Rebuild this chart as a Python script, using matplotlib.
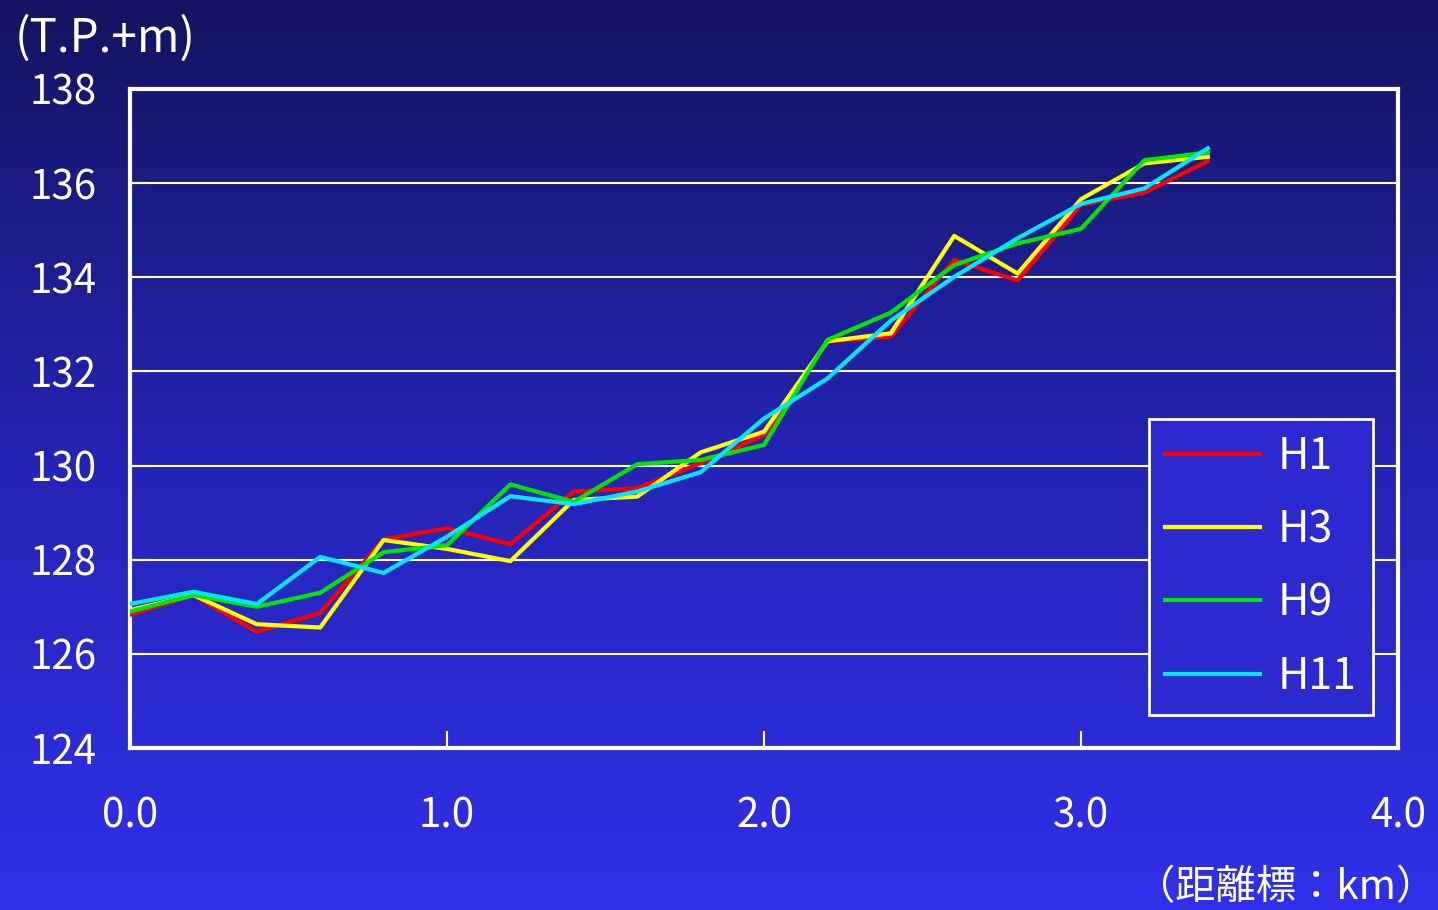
import numpy as np
import matplotlib
matplotlib.use("Agg")
import matplotlib.pyplot as plt
from matplotlib.colors import LinearSegmentedColormap

plt.rcParams['font.family'] = ['Noto Sans CJK JP', 'DejaVu Sans']

# distance marks (km) and bed elevation (T.P.+m) for each survey
dist = [0.0, 0.2, 0.4, 0.6, 0.8, 1.0, 1.2, 1.4, 1.6, 1.8,
        2.0, 2.2, 2.4, 2.6, 2.8, 3.0, 3.2, 3.4]
h1 = [126.83, 127.25, 126.47, 126.87, 128.43, 128.67, 128.33, 129.45, 129.52,
      130.05, 130.65, 132.64, 132.74, 134.37, 133.93, 135.54, 135.80, 136.47]
h3 = [126.93, 127.25, 126.63, 126.56, 128.42, 128.23, 127.97, 129.27, 129.34,
      130.28, 130.72, 132.64, 132.81, 134.88, 134.08, 135.66, 136.42, 136.56]
h9 = [126.90, 127.25, 127.00, 127.30, 128.16, 128.31, 129.60, 129.23, 130.03,
      130.12, 130.44, 132.67, 133.25, 134.26, 134.72, 135.03, 136.49, 136.65]
h11 = [127.06, 127.32, 127.06, 128.06, 127.72, 128.49, 129.35, 129.18, 129.45,
       129.86, 131.00, 131.85, 133.08, 134.01, 134.83, 135.56, 135.89, 136.74]

series = [("H1", h1, "#ff0000"), ("H3", h3, "#ffff00"),
          ("H9", h9, "#00e600"), ("H11", h11, "#00e8ff")]

xticks = [0.0, 1.0, 2.0, 3.0, 4.0]
yticks = [124, 126, 128, 130, 132, 134, 136, 138]

fig = plt.figure(figsize=(14.38, 9.1), dpi=100)

# background gradient, dark navy at top to bright blue at bottom
bg = fig.add_axes([0, 0, 1, 1], zorder=-10)
cmap = LinearSegmentedColormap.from_list("bg", ["#141460", "#2424b4", "#3030ea"])
grad = np.linspace(0, 1, 256).reshape(-1, 1)
bg.imshow(grad, aspect="auto", cmap=cmap, extent=[0, 1, 0, 1])
bg.axis("off")

ax = fig.add_axes([0.0904, 0.178, 0.8818, 0.7242])
ax.patch.set_alpha(0)

for name, vals, col in series:
    ax.plot(dist, vals, color=col, lw=3, label=name, zorder=3)

ax.set_xlim(0, 4)
ax.set_ylim(124, 138)
ax.set_xticks(xticks)
ax.set_xticklabels([f"{t:.1f}" for t in xticks])
ax.set_yticks(yticks)
ax.yaxis.grid(True, color="white", lw=1.5)
ax.set_axisbelow(True)

for s in ax.spines.values():
    s.set_color("white")
    s.set_linewidth(3)

ax.tick_params(axis="both", direction="in", colors="white", length=12, width=1.5,
               labelsize=29)
ax.tick_params(axis="x", pad=34)
ax.tick_params(axis="y", pad=24)

leg = ax.legend(loc="lower right", bbox_to_anchor=(0.980, 0.05), borderaxespad=0,
                fontsize=31, handlelength=2.2, handletextpad=0.4,
                labelspacing=0.68, borderpad=0.38, fancybox=False, framealpha=1,
                facecolor="#2a2ad0", edgecolor="white", labelcolor="white")
leg.get_frame().set_linewidth(2)

fig.text(0.010, 0.958, "(T.P.+m)", color="white", fontsize=33, va="center")
fig.text(0.999, 0.025, "（距離標：km）", color="white", fontsize=29,
         ha="right", va="center")

fig.savefig("out.png", dpi=100)
